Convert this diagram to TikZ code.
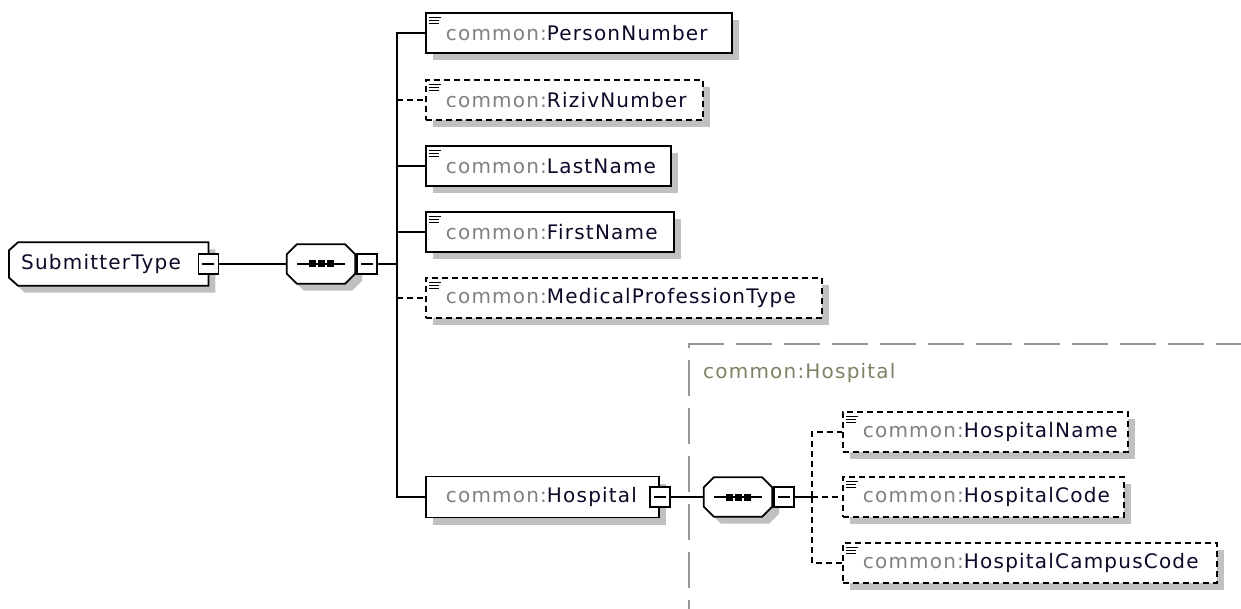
\documentclass[tikz,border=0pt]{standalone}
\usepackage{fontspec}
\setmainfont{DejaVu Sans}[LetterSpace=6]
\usetikzlibrary{calc,backgrounds}
\definecolor{pfxcol}{RGB}{128,128,128}
\definecolor{namecol}{RGB}{10,10,40}
\definecolor{grpcol}{RGB}{150,150,150}
\definecolor{grplbl}{RGB}{128,128,100}
\definecolor{shgray}{RGB}{192,192,192}
\newcommand\pfx[1]{\textcolor{pfxcol}{#1}}
\newcommand\nm[1]{\textcolor{namecol}{#1}}
\begin{document}
\begin{tikzpicture}[x=1pt,y=-1pt,
  lbl/.style={font=\fontsize{20pt}{24pt}\selectfont},
  lw/.style={line width=1.8pt},
  opt/.style={dash pattern=on 6pt off 4pt},
  conn/.style={lw, draw=black},
  shadowed/.style={preaction={fill=shgray, draw=none, transform canvas={shift={(7pt,-7pt)}}}},
  elembase/.style={lbl, rectangle, draw=black, lw, fill=white, shadowed, anchor=west,
     minimum height=40pt, inner xsep=20pt, inner ysep=0pt, align=left},
  elem/.style={elembase,
     path picture={\draw[solid, line width=1.7pt]
        ([shift={(3pt,-4.5pt)}]path picture bounding box.north west) -- ++(12pt,0pt)
        ([shift={(3pt,-7.5pt)}]path picture bounding box.north west) -- ++(10pt,0pt)
        ([shift={(3pt,-10.5pt)}]path picture bounding box.north west) -- ++(10pt,0pt);}},
  minus/.style={rectangle, draw=black, lw, fill=white, minimum size=20pt, inner sep=0pt,
     path picture={\draw[solid, line width=1.5pt]
        ([xshift=4pt]path picture bounding box.west) -- ([xshift=-4pt]path picture bounding box.east);}},
  seqn/.style={rectangle, draw=none, minimum width=68pt, minimum height=39pt, inner sep=0pt},
  grpline/.style={draw=grpcol, line width=1.5pt, dash pattern=on 36pt off 12pt}
]
\useasboundingbox (0,0) rectangle (1241,609);

% root and sequences
\node[lbl, anchor=west, inner xsep=12pt, inner ysep=0pt, minimum height=43pt,
      text width=175pt, align=left] (st) at (9,264) {\nm{SubmitterType}};
\node[seqn] (seq1) at (321,264) {};
\node[seqn] (seq2) at (738,497) {};

\begin{scope}[on background layer]
  \draw[grpline] (688,344) -- (1241,344);
  \draw[grpline, dash phase=32pt] (689,344) -- (689,609);
  \fill[shgray, transform canvas={shift={(7pt,-7pt)}}]
    ($(st.north west)+(9,0)$) -- (st.north east) -- (st.south east) -- ($(st.south west)+(9,0)$)
    -- ($(st.south west)+(0,-8)$) -- ($(st.north west)+(0,8)$) -- cycle;
  \filldraw[lw, fill=white]
    ($(st.north west)+(9,0)$) -- (st.north east) -- (st.south east) -- ($(st.south west)+(9,0)$)
    -- ($(st.south west)+(0,-8)$) -- ($(st.north west)+(0,8)$) -- cycle;
  \foreach \n in {seq1,seq2}{
    \fill[shgray, transform canvas={shift={(7pt,-7pt)}}]
      ($(\n.north west)+(10,0)$) -- ($(\n.north east)+(-10,0)$) -- ($(\n.north east)+(0,10)$)
      -- ($(\n.south east)+(0,-10)$) -- ($(\n.south east)+(-10,0)$) -- ($(\n.south west)+(10,0)$)
      -- ($(\n.south west)+(0,-10)$) -- ($(\n.north west)+(0,10)$) -- cycle;
    \filldraw[lw, fill=white]
      ($(\n.north west)+(10,0)$) -- ($(\n.north east)+(-10,0)$) -- ($(\n.north east)+(0,10)$)
      -- ($(\n.south east)+(0,-10)$) -- ($(\n.south east)+(-10,0)$) -- ($(\n.south west)+(10,0)$)
      -- ($(\n.south west)+(0,-10)$) -- ($(\n.north west)+(0,10)$) -- cycle;
  }
\end{scope}

\foreach \n in {seq1,seq2}{
  \draw[lw] ([xshift=10pt]\n.west) -- ([xshift=-10pt]\n.east);
  \foreach \dx in {-9,0,9}
    \fill ([xshift=\dx pt]\n.center) +(-3.5,-3.5) rectangle +(3.5,3.5);
}

\node[minus] (stm) at (st.east) {};
\node[minus, anchor=west] (seq1m) at ([xshift=1pt]seq1.east) {};
\node[minus, anchor=west] (seq2m) at ([xshift=1pt]seq2.east) {};
\coordinate (b1) at (397,264);
\coordinate (b2) at (812,497);

% children of SubmitterType
\node[elem, text width=266pt] (pn) at (425,33) {\pfx{common:}\nm{PersonNumber}};
\node[elem, opt, text width=237pt] (rz) at (425,100) {\pfx{common:}\nm{RizivNumber}};
\node[elem, text width=205pt] (lastn) at (425,166) {\pfx{common:}\nm{LastName}};
\node[elem, text width=208pt] (firstn) at (425,232) {\pfx{common:}\nm{FirstName}};
\node[elem, opt, text width=356pt] (mp) at (425,298) {\pfx{common:}\nm{MedicalProfessionType}};
\node[elembase, minimum height=41pt, text width=193pt] (hosp) at (425,497) {\pfx{common:}\nm{Hospital}};
\node[minus] (hospm) at (hosp.east) {};

% group
\node[lbl, anchor=west, inner sep=0pt, text=grplbl] (grp) at (703,373) {common:Hospital};
\node[elem, opt, text width=245pt] (hn) at (842,432) {\pfx{common:}\nm{HospitalName}};
\node[elem, opt, text width=241pt] (hc) at (842,497) {\pfx{common:}\nm{HospitalCode}};
\node[elem, opt, text width=334pt] (hcc) at (842,563) {\pfx{common:}\nm{HospitalCampusCode}};

% connectors
\draw[conn] (stm.east) -- (seq1.west);
\draw[conn] (seq1m.east) -- (b1);
\draw[conn] (b1) |- (pn.west);
\draw[conn] (b1) |- (hosp.west);
\draw[conn, opt] (b1 |- rz.west) -- (rz.west);
\draw[conn] (b1 |- lastn.west) -- (lastn.west);
\draw[conn] (b1 |- firstn.west) -- (firstn.west);
\draw[conn, opt] (b1 |- mp.west) -- (mp.west);
\draw[conn] (hospm.east) -- (seq2.west);
\draw[conn] (seq2m.east) -- (b2);
\draw[conn, opt] (b2) |- (hn.west);
\draw[conn, opt] (b2) |- (hcc.west);
\draw[conn, opt] (b2) -- (hc.west);
\end{tikzpicture}
\end{document}
